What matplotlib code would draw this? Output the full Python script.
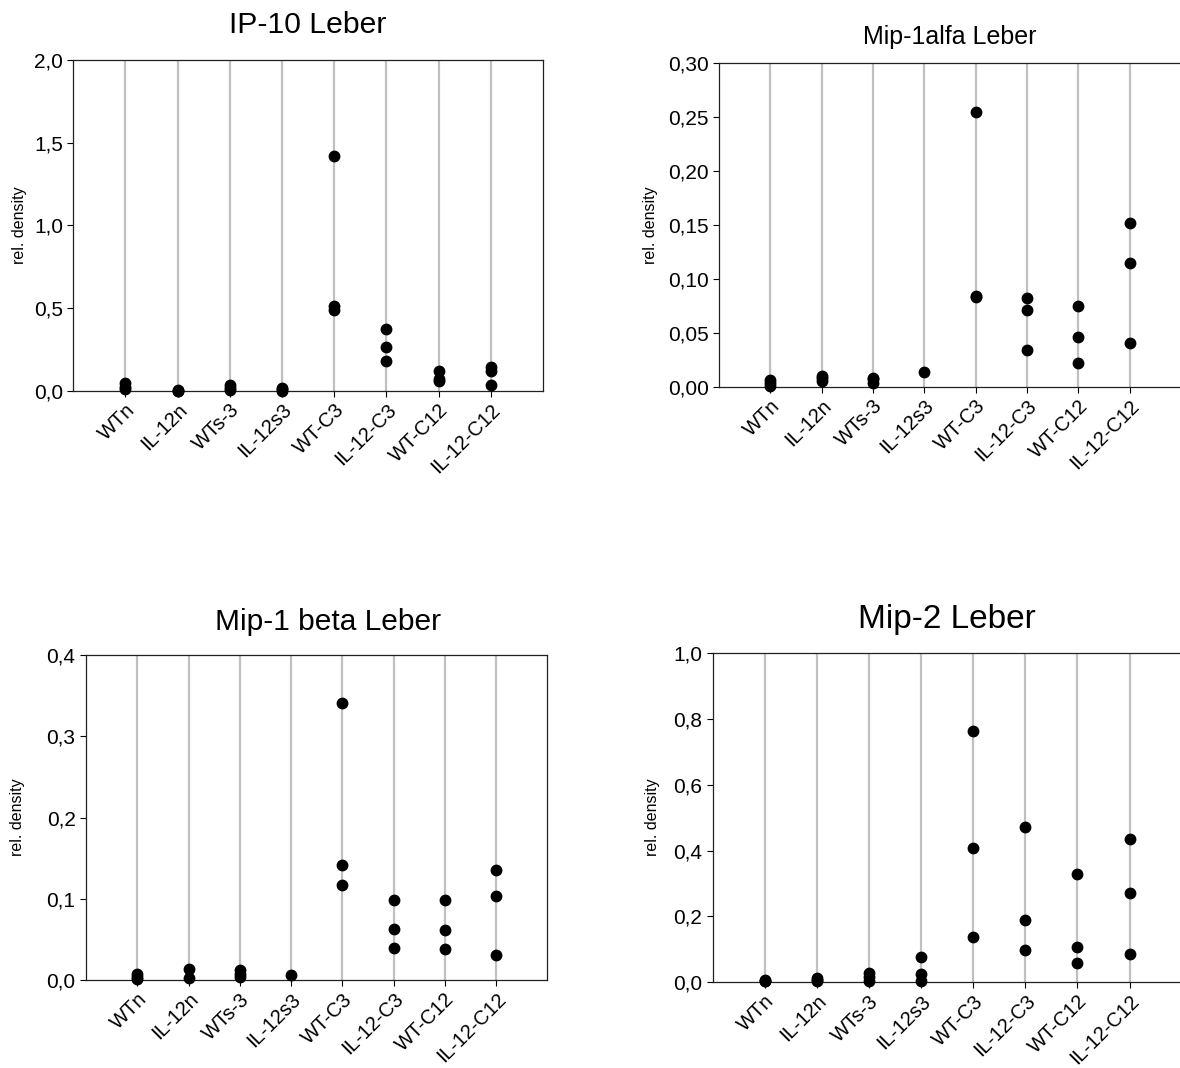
import matplotlib
matplotlib.use("Agg")
import matplotlib.pyplot as plt

plt.rcParams['font.family'] = ['Liberation Sans', 'DejaVu Sans']

categories = ["WTn", "IL-12n", "WTs-3", "IL-12s3", "WT-C3", "IL-12-C3", "WT-C12", "IL-12-C12"]

# values per category (each list = replicate points)
ip10 = [[0.045, 0.025, 0.01], [0.002, 0.001, 0.0], [0.035, 0.015, 0.005], [0.015, 0.008, 0.0],
        [1.42, 0.51, 0.49], [0.373, 0.266, 0.181], [0.117, 0.071, 0.058], [0.145, 0.121, 0.036]]
mip1a = [[0.006, 0.003, 0.001], [0.010, 0.008, 0.005], [0.008, 0.007, 0.003], [0.0136],
         [0.254, 0.084, 0.083], [0.0824, 0.071, 0.0343], [0.0744, 0.0463, 0.0222], [0.1518, 0.1148, 0.0401]]
mip1b = [[0.008, 0.004, 0.001], [0.013, 0.002], [0.012, 0.008, 0.004], [0.006],
         [0.341, 0.1417, 0.1166], [0.0982, 0.0628, 0.039], [0.099, 0.0612, 0.0382], [0.135, 0.103, 0.0312]]
mip2 = [[0.006, 0.004, 0.002], [0.012, 0.006, 0.003], [0.026, 0.014, 0.004], [0.077, 0.025, 0.004],
        [0.765, 0.407, 0.136], [0.473, 0.189, 0.097], [0.328, 0.106, 0.058], [0.435, 0.270, 0.084]]

titles = ["IP-10 Leber", "Mip-1alfa Leber", "Mip-1 beta Leber", "Mip-2 Leber"]
yticks_list = [[0.0, 0.5, 1.0, 1.5, 2.0],
               [0.0, 0.05, 0.10, 0.15, 0.20, 0.25, 0.30],
               [0.0, 0.1, 0.2, 0.3, 0.4],
               [0.0, 0.2, 0.4, 0.6, 0.8, 1.0]]
ytick_labels = [["0,0", "0,5", "1,0", "1,5", "2,0"],
                ["0,00", "0,05", "0,10", "0,15", "0,20", "0,25", "0,30"],
                ["0,0", "0,1", "0,2", "0,3", "0,4"],
                ["0,0", "0,2", "0,4", "0,6", "0,8", "1,0"]]
datasets = [ip10, mip1a, mip1b, mip2]

W, H = 1180, 1068
fig = plt.figure(figsize=(W / 100, H / 100), dpi=100)

# axes boxes in pixels: left, right, top, bottom
boxes = [(73.3, 543.0, 60.0, 390.7),
         (719.0, 1181.0, 62.7, 386.7),
         (86.0, 547.3, 655.3, 980.0),
         (712.7, 1181.6, 653.3, 982.0)]
label_x = [-0.0986, -0.132, -0.132, -0.112]
title_pad = [19.4, 13.5, 18.0, 18.0]
title_size = [21.7, 18, 21.5, 24]
title_x = [0.5, 0.5, 0.524, 0.5]

for i in range(4):
    l, r, t, b = boxes[i]
    ax = fig.add_axes([l / W, (H - b) / H, (r - l) / W, (b - t) / H])
    data = datasets[i]
    for k, vals in enumerate(data):
        ax.plot([k + 1] * len(vals), vals, linestyle='none', marker='o', ms=7.5,
                color='black', clip_on=False, zorder=5)
    ax.set_xlim(0, 9)
    ax.set_ylim(yticks_list[i][0], yticks_list[i][-1])
    ax.set_xticks(range(1, 9))
    ax.set_xticklabels(categories, rotation=45, ha='right', va='top',
                       rotation_mode='anchor', fontsize=14.5)
    ax.set_yticks(yticks_list[i])
    ax.set_yticklabels(ytick_labels[i], fontsize=15)
    for x in range(1, 9):
        ax.axvline(x, color='#c0c0c0', lw=1.6, zorder=1)
    ax.tick_params(axis='both', direction='out', length=4, width=0.8, colors='black')
    ax.tick_params(axis='x', pad=3)
    for s in ax.spines.values():
        s.set_linewidth(0.9)
        s.set_color('#202020')
    ax.set_ylabel("rel. density", fontsize=11.5)
    ax.yaxis.set_label_coords(label_x[i], 0.5)
    ax.set_title(titles[i], fontsize=title_size[i], pad=title_pad[i], x=title_x[i])

fig.savefig("out.png", dpi=100, facecolor='white')
